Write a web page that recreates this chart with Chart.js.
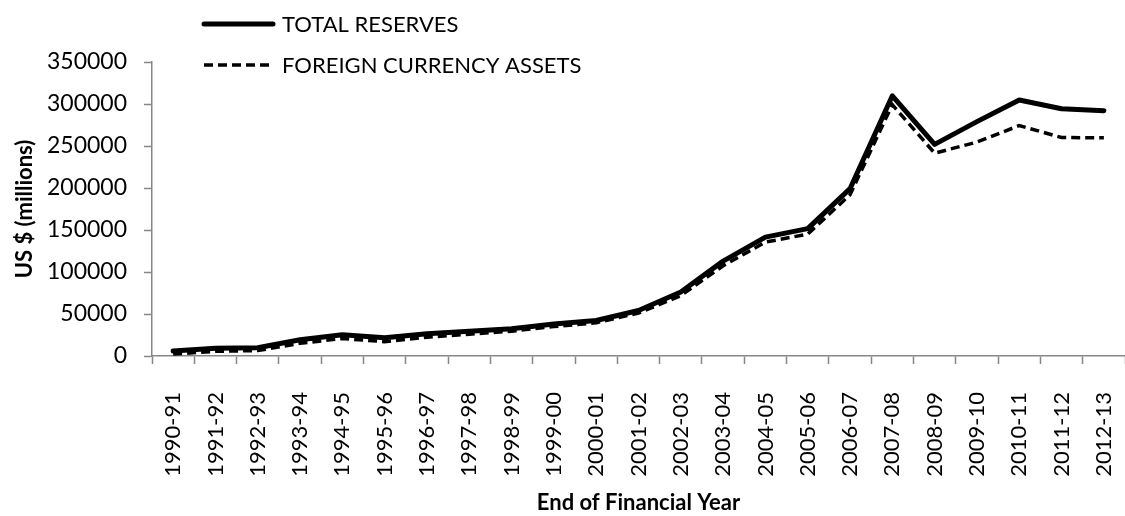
<!DOCTYPE html>
<html>
<head>
<meta charset="utf-8">
<script src="https://cdn.jsdelivr.net/npm/chart.js@4/dist/chart.umd.min.js"></script>
<style>
    html, body { margin: 0; padding: 0; background: #fff; }
    #wrap { width: 1125px; height: 516px; position: relative; }
</style>
</head>
<body>
<div id="wrap"><canvas id="chart"></canvas></div>
<script>
// -------- DATA --------
const years = ['1990-91', '1991-92', '1992-93', '1993-94', '1994-95', '1995-96', '1996-97', '1997-98',
    '1998-99', '1999-00', '2000-01', '2001-02', '2002-03', '2003-04', '2004-05', '2005-06',
    '2006-07', '2007-08', '2008-09', '2009-10', '2010-11', '2011-12', '2012-13'];
const totalReserves = [5834, 9220, 9832, 19254, 25186, 21687, 26423, 29367, 32490, 38036, 42281,
    54106, 76100, 112959, 141514, 151622, 199179, 309723, 251985, 279057, 304818, 294397, 292046];
const foreignCurrencyAssets = [2236, 5631, 6434, 15068, 20809, 17044, 22367, 25975, 29522, 35058, 39554,
    51049, 71890, 107448, 135571, 145108, 191924, 299230, 241426, 254685, 274330, 260069, 259726];
const seriesNames = ['TOTAL RESERVES', 'FOREIGN CURRENCY ASSETS'];
const yMax = 350000;
const yStep = 50000;

const FONT = 'Lato, "Open Sans", sans-serif';
const AXIS_GREY = '#878787';

// legend drawn by hand, two rows stacked at the top left (Excel style)
const stackedLegend = {
    id: 'stackedLegend',
    afterDraw(chart) {
        const ctx = chart.ctx;
        const rows = [24, 65];
        ctx.save();
        chart.data.datasets.forEach((ds, i) => {
            const y = rows[i];
            ctx.beginPath();
            ctx.strokeStyle = ds.borderColor;
            ctx.lineWidth = ds.borderWidth;
            ctx.setLineDash(ds.borderDash || []);
            ctx.lineCap = ds.borderDash ? 'butt' : 'round';
            ctx.moveTo(204, y);
            ctx.lineTo(273, y);
            ctx.stroke();
            ctx.setLineDash([]);
            ctx.fillStyle = '#000';
            ctx.font = '22px ' + FONT;
            ctx.textBaseline = 'middle';
            ctx.textAlign = 'left';
            ctx.fillText(ds.label, 282, y + 1);
        });
        ctx.restore();
    }
};

new Chart(document.getElementById('chart').getContext('2d'), {
    type: 'line',
    data: {
        labels: years,
        datasets: [{
            label: seriesNames[0],
            data: totalReserves,
            borderColor: '#000',
            borderWidth: 5,
            pointRadius: 0,
            tension: 0,
            fill: false,
            borderJoinStyle: 'round',
            borderCapStyle: 'round'
        }, {
            label: seriesNames[1],
            data: foreignCurrencyAssets,
            borderColor: '#000',
            borderWidth: 3.5,
            borderDash: [9, 5],
            pointRadius: 0,
            tension: 0,
            fill: false
        }]
    },
    options: {
        responsive: true,
        maintainAspectRatio: false,
        animation: false,
        layout: { padding: { top: 62, right: 0, left: 12, bottom: 0 } },
        plugins: {
            legend: { display: false },
            tooltip: { enabled: false }
        },
        scales: {
            x: {
                offset: true,
                grid: {
                    offset: true,
                    drawOnChartArea: false,
                    drawTicks: true,
                    tickLength: 8,
                    tickColor: AXIS_GREY,
                    tickWidth: 1.5
                },
                border: { color: AXIS_GREY, width: 1.5 },
                ticks: {
                    color: '#000',
                    font: { family: FONT, size: 22 },
                    maxRotation: 90,
                    minRotation: 90,
                    autoSkip: false,
                    padding: 28
                },
                title: {
                    display: true,
                    text: 'End of Financial Year',
                    color: '#000',
                    font: { family: FONT, size: 22, weight: 'bold' },
                    padding: { top: 0, bottom: 0 }
                },
                // chart.js doubles tick padding when sizing, pin the box instead
                afterFit(scale) {
                    scale.height = 160;
                    scale.paddingRight = 0;
                }
            },
            y: {
                min: 0,
                max: yMax,
                grid: {
                    drawOnChartArea: false,
                    drawTicks: true,
                    tickLength: 8,
                    tickColor: AXIS_GREY,
                    tickWidth: 1.5
                },
                border: { color: AXIS_GREY, width: 1.5 },
                ticks: {
                    stepSize: yStep,
                    color: '#000',
                    font: { family: FONT, size: 23 },
                    padding: 17,
                    callback: v => String(v)
                },
                title: {
                    display: true,
                    text: 'US $ (millions)',
                    color: '#000',
                    font: { family: FONT, size: 22, weight: 'bold' },
                    padding: { top: 0, bottom: 0 }
                },
                afterFit(scale) {
                    scale.width = 140;
                }
            }
        }
    },
    plugins: [stackedLegend]
});
</script>
</body>
</html>
